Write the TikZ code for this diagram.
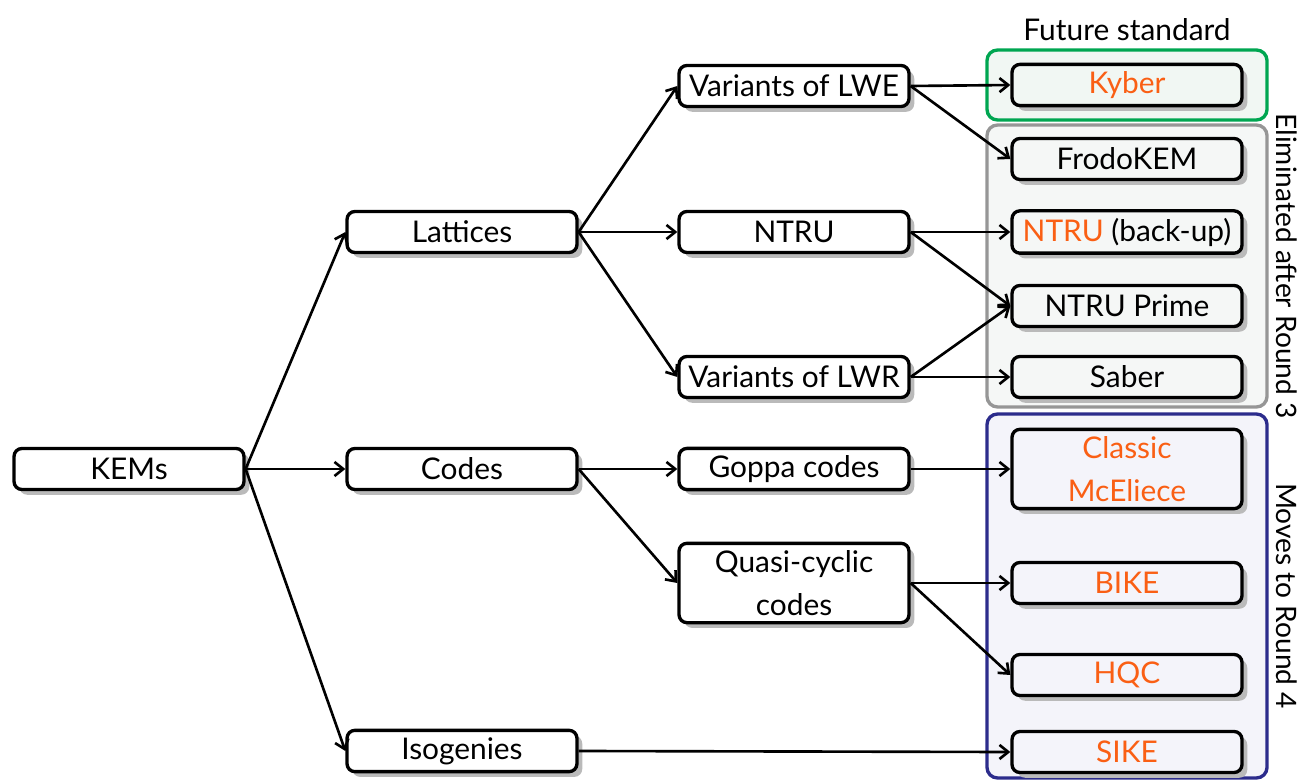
\documentclass[tikz,border=0pt]{standalone}
\usepackage{fontspec}
\setmainfont{Lato}
\usetikzlibrary{arrows.meta,positioning,fit,shadows}
\definecolor{kemOrange}{RGB}{250,95,20}
\definecolor{frameGreen}{RGB}{0,166,81}
\definecolor{frameGrey}{RGB}{150,150,150}
\definecolor{frameBlue}{RGB}{44,44,140}
\definecolor{fillGreen}{RGB}{241,247,243}
\definecolor{fillGrey}{RGB}{245,247,246}
\definecolor{fillBlue}{RGB}{244,244,250}
\tikzset{
  kembox/.style={draw=black, line width=1.9pt, rounded corners=4.5pt, fill=white,
    minimum width=4.6cm, minimum height=0.82cm, inner sep=4pt, align=center,
    drop shadow={shadow xshift=3pt, shadow yshift=-3pt, fill=black!27, opacity=1}},
  greenbox/.style={kembox, fill=fillGreen},
  greybox/.style={kembox, fill=fillGrey},
  bluebox/.style={kembox, fill=fillBlue},
  roundframe/.style={line width=1.9pt, rounded corners=6pt, inner sep=0pt},
  sidelabel/.style={xshift=1pt, rotate=-90, anchor=south, font=\fontsize{16pt}{20pt}\selectfont},
  link/.style={line width=1.5pt, -{Straight Barb[length=5pt,width=8pt]}}
}

\begin{document}
\begin{tikzpicture}[x=0.02cm, y=-0.02cm, font=\fontsize{17pt}{24.5pt}\selectfont]
  \useasboundingbox (0,0) rectangle (1305,780);

  % frames round the outcome of each candidate
  \node[roundframe, draw=frameGreen, fill=fillGreen, fit={(987,50) (1267,120)}] (standardframe) {};
  \node[roundframe, draw=frameGrey, fill=fillGrey, fit={(987,125) (1267,407)}] (eliminatedframe) {};
  \node[roundframe, draw=frameBlue, fill=fillBlue, fit={(987,414) (1267,778)}] (roundfourframe) {};
  \node[above=1pt of standardframe] (standardlabel) {Future standard};
  \node[sidelabel] (eliminatedlabel) at (eliminatedframe.east) {Eliminated after Round 3};
  \node[sidelabel] (roundfourlabel) at (roundfourframe.east) {Moves to Round 4};

  % families
  \node[kembox] (kems) at (129,469) {KEMs};
  \node[kembox] (lattices) at (462,232) {Lattices};
  \node[kembox] (codes) at (462,469) {Codes};
  \node[kembox] (isogenies) at (462,751) {Isogenies};

  % sub-families
  \node[kembox] (lwe) at (794,86) {Variants of LWE};
  \node[kembox] (ntru) at (794,232) {NTRU};
  \node[kembox] (lwr) at (794,377) {Variants of LWR};
  \node[kembox] (goppa) at (794,469) {Goppa codes};
  \node[kembox] (quasicyclic) at (794,583) {Quasi-cyclic\\codes};

  % candidates
  \node[greenbox] (kyber) at (1127,85) {\color{kemOrange}Kyber};
  \node[greybox] (frodo) at (1127,159) {FrodoKEM};
  \node[greybox] (ntrubackup) at (1127,232) {{\color{kemOrange}NTRU} (back-up)};
  \node[greybox] (ntruprime) at (1127,306) {NTRU Prime};
  \node[greybox] (saber) at (1127,377) {Saber};
  \node[bluebox] (mceliece) at (1127,469) {\color{kemOrange}Classic\\\color{kemOrange}McEliece};
  \node[bluebox] (bike) at (1127,583) {\color{kemOrange}BIKE};
  \node[bluebox] (hqc) at (1127,675) {\color{kemOrange}HQC};
  \node[bluebox] (sike) at (1127,752) {\color{kemOrange}SIKE};

  \foreach \from/\to in {kems/lattices, kems/codes, kems/isogenies,
      lattices/lwe, lattices/ntru, lattices/lwr, codes/goppa, codes/quasicyclic,
      lwe/kyber, lwe/frodo, ntru/ntrubackup, ntru/ntruprime, lwr/ntruprime, lwr/saber,
      goppa/mceliece, quasicyclic/bike, quasicyclic/hqc, isogenies/sike}
    \draw[link] (\from.east) -- (\to.west);
\end{tikzpicture}
\end{document}
